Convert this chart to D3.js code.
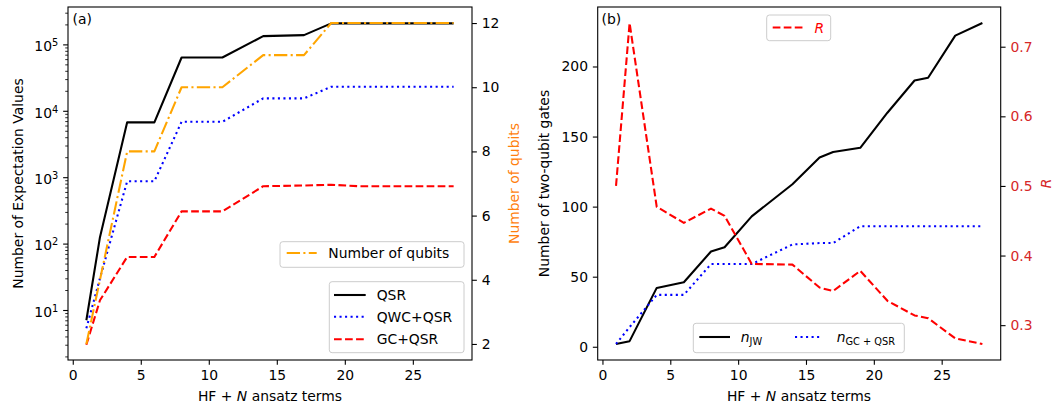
<!DOCTYPE html>
<html>
<head>
<meta charset="utf-8">
<script src="https://cdn.jsdelivr.net/npm/d3@7"></script>
<style>
  body { margin: 0; background: #fff; }
  svg { display: block; }
  svg text { font-family: "DejaVu Sans", sans-serif; font-weight: 400; }
  .tick text { font-size: 13.9px; fill: #000; }
  .tick line { stroke: #000; }
</style>
</head>
<body>
<svg width="1057" height="410"></svg>
<script>
// ---- data, panel (a) ----
const termsA = [1, 2, 4, 6, 8, 11, 14, 17, 19, 21, 28];
const qsr = [7, 125, 6700, 6700, 63500, 63500, 133000, 138000, 207000, 207000, 207000];
const qwcQsr = [5.3, 30, 870, 870, 6820, 6820, 15400, 15400, 23000, 23000, 23000];
const gcQsr = [3, 14, 63, 63, 306, 306, 731, 750, 769, 731, 731];
const qubits = [2, 4, 8, 8, 10, 10, 11, 11, 12, 12, 12];

// ---- data, panel (b) ----
const termsB = [1, 2, 4, 6, 8, 9, 11, 14, 16, 17, 19, 21, 23, 24, 26, 28];
const nJW = [2, 4, 42, 46, 68, 71, 93, 116, 135, 139, 142, 167, 190, 192, 222, 231];
const nGC = [2, 14, 37, 37, 59, 59, 59, 73, 74, 74, 86, 86, 86, 86, 86, 86];
const ratio = [0.5, 0.734, 0.47, 0.447, 0.4675, 0.457, 0.388, 0.387, 0.354, 0.349, 0.378, 0.335, 0.314, 0.31, 0.281, 0.273];

// tick values
const xTicks = [0, 5, 10, 15, 20, 25];
const logTicks = [1e1, 1e2, 1e3, 1e4, 1e5];
const qubitTicks = [2, 4, 6, 8, 10, 12];
const gateTicks = [0, 50, 100, 150, 200];
const ratioTicks = [0.3, 0.4, 0.5, 0.6, 0.7];

const svg = d3.select('svg');
const fs = 13.9;       // 10pt at 100 dpi
const lw = 2.08;       // 1.5pt
const tickLen = 4.86;
const plotTop = 7, plotBottom = 360;

// matplotlib-like dash patterns
const dashes = {
  solid: null,
  dashed: '7.7,3.33',
  dotted: '2.08,3.44',
  dashdot: '13.33,3.33,2.08,3.33'
};

const panelA = { left: 68, right: 472 };
const panelB = { left: 597.7, right: 1000.7 };

const xA = d3.scaleLinear().domain([-0.35, 29.35]).range([panelA.left, panelA.right]);
const xB = d3.scaleLinear().domain([-0.35, 29.35]).range([panelB.left, panelB.right]);
const yLog = d3.scaleLog().domain([Math.pow(10, 0.247), Math.pow(10, 5.563)]).range([plotBottom, plotTop]);
const yQubits = d3.scaleLinear().domain([1.5, 12.5]).range([plotBottom, plotTop]);
const yGates = d3.scaleLinear().domain([-9.45, 242.45]).range([plotBottom, plotTop]);
const yRatio = d3.scaleLinear().domain([0.24995, 0.75705]).range([plotBottom, plotTop]);

// draw a line series
const drawLine = (g, xs, ys, xScale, yScale, color, style) => {
  const line = d3.line().x((d, i) => xScale(xs[i])).y(d => yScale(d));
  g.append('path')
    .datum(ys)
    .attr('d', line)
    .attr('fill', 'none')
    .attr('stroke', color)
    .attr('stroke-width', lw)
    .attr('stroke-dasharray', dashes[style])
    .attr('stroke-linejoin', 'round');
};

// axis helper, strips the domain path
const addAxis = (axis, transform, tickColor) => {
  const g = svg.append('g').attr('transform', transform).call(axis);
  g.select('.domain').remove();
  g.selectAll('.tick line').attr('stroke-width', 1.1);
  if (tickColor) g.selectAll('.tick text').style('fill', tickColor);
  return g;
};

// ---------------- panel (a) ----------------
const gA = svg.append('g');
drawLine(gA, termsA, qsr, xA, yLog, '#000', 'solid');
drawLine(gA, termsA, qwcQsr, xA, yLog, '#0000ff', 'dotted');
drawLine(gA, termsA, gcQsr, xA, yLog, '#ff0000', 'dashed');
drawLine(gA, termsA, qubits, xA, yQubits, '#ffa500', 'dashdot');

addAxis(d3.axisBottom(xA).tickValues(xTicks).tickSize(tickLen).tickPadding(4.86),
  `translate(0,${plotBottom})`);

// log axis, major ticks with 10^k labels
const logAxis = addAxis(d3.axisLeft(yLog).tickValues(logTicks).tickSize(tickLen).tickPadding(4.86).tickFormat(''),
  `translate(${panelA.left},0)`);
logAxis.selectAll('.tick text')
  .attr('dy', '0.45em')
  .each(function (d) {
    const t = d3.select(this);
    t.append('tspan').text('10');
    t.append('tspan').attr('dy', '-0.5em').style('font-size', '9.8px').text(Math.round(Math.log10(d)));
  });

// minor log ticks
const minorTicks = [];
[1, 10, 100, 1000, 10000, 100000].forEach(p => {
  for (let m = 2; m <= 9; m++) {
    const v = m * p;
    if (v > yLog.domain()[0] && v < yLog.domain()[1]) minorTicks.push(v);
  }
});
const minorAxis = addAxis(d3.axisLeft(yLog).tickValues(minorTicks).tickSize(2.78).tickFormat(''),
  `translate(${panelA.left},0)`);
minorAxis.selectAll('.tick line').attr('stroke-width', 0.83);

addAxis(d3.axisRight(yQubits).tickValues(qubitTicks).tickSize(tickLen).tickPadding(4.86),
  `translate(${panelA.right},0)`);

// ---------------- panel (b) ----------------
const gB = svg.append('g');
drawLine(gB, termsB, nJW, xB, yGates, '#000', 'solid');
drawLine(gB, termsB, nGC, xB, yGates, '#0000ff', 'dotted');
drawLine(gB, termsB, ratio, xB, yRatio, '#ff0000', 'dashed');

addAxis(d3.axisBottom(xB).tickValues(xTicks).tickSize(tickLen).tickPadding(4.86),
  `translate(0,${plotBottom})`);
addAxis(d3.axisLeft(yGates).tickValues(gateTicks).tickSize(tickLen).tickPadding(4.86),
  `translate(${panelB.left},0)`);
addAxis(d3.axisRight(yRatio).tickValues(ratioTicks).tickSize(tickLen).tickPadding(4.86).tickFormat(d3.format('.1f')),
  `translate(${panelB.right},0)`, '#d62728');

// spines
[panelA, panelB].forEach(p => {
  svg.append('rect')
    .attr('x', p.left).attr('y', plotTop)
    .attr('width', p.right - p.left).attr('height', plotBottom - plotTop)
    .attr('fill', 'none').attr('stroke', '#000').attr('stroke-width', 1.1);
});

// ---------------- labels ----------------
const label = (x, y, rotate, color) => svg.append('text')
  .attr('transform', `translate(${x},${y}) rotate(${rotate})`)
  .attr('text-anchor', 'middle')
  .style('font-size', fs + 'px')
  .style('fill', color || '#000');

// x labels with italic N
[panelA, panelB].forEach(p => {
  const t = label(Math.round((p.left + p.right) / 2), 401, 0);
  t.append('tspan').text('HF + ');
  t.append('tspan').style('font-style', 'italic').text('N');
  t.append('tspan').text(' ansatz terms');
});

label(22.5, 183.5, -90).text('Number of Expectation Values');
label(518.5, 183.5, -90, '#ff7f0e').text('Number of qubits');
label(549, 183.5, -90).text('Number of two-qubit gates');
label(1051, 183.5, -90, '#d62728').style('font-style', 'italic').text('R');

svg.append('text').attr('x', 72.5).attr('y', 24).style('font-size', fs + 'px').text('(a)');
svg.append('text').attr('x', 601.5).attr('y', 24).style('font-size', fs + 'px').text('(b)');

// ---------------- legends ----------------
const legendBox = (x0, y0, x1, y1) => {
  svg.append('rect')
    .attr('x', x0).attr('y', y0)
    .attr('width', x1 - x0).attr('height', y1 - y0)
    .attr('rx', 2.8)
    .attr('fill', 'rgba(255,255,255,0.8)')
    .attr('stroke', '#cccccc').attr('stroke-width', 1);
};
const legendLine = (x0, x1, y, color, style) => {
  svg.append('line')
    .attr('x1', x0).attr('x2', x1).attr('y1', y).attr('y2', y)
    .attr('stroke', color).attr('stroke-width', lw)
    .attr('stroke-dasharray', dashes[style]);
};
const legendText = (x, y, color) => svg.append('text')
  .attr('x', x).attr('y', y + 5)
  .style('font-size', fs + 'px')
  .style('fill', color || '#000');

// (a) qubits legend
legendBox(280, 241.7, 464, 267.3);
legendLine(286.7, 316.7, 253, '#ffa500', 'dashdot');
legendText(328.3, 253).text('Number of qubits');

// (a) method legend
const methodNames = ['QSR', 'QWC+QSR', 'GC+QSR'];
const methodColors = ['#000', '#0000ff', '#ff0000'];
const methodStyles = ['solid', 'dotted', 'dashed'];
const methodRows = [295, 316.7, 339.3];
legendBox(329.3, 281.7, 464, 352.7);
methodNames.forEach((n, i) => {
  legendLine(334, 365.7, methodRows[i], methodColors[i], methodStyles[i]);
  legendText(376.7, methodRows[i]).text(n);
});

// (b) R legend
legendBox(766.7, 15, 830.7, 40.7);
legendLine(772.7, 803.5, 27.5, '#ff0000', 'dashed');
legendText(814.5, 27.5, '#ff0000').style('font-style', 'italic').text('R');

// (b) gates legend
legendBox(693.3, 323.3, 904.3, 352.7);
legendLine(699.3, 730, 337, '#000', 'solid');
const tJW = legendText(740.7, 337);
tJW.append('tspan').style('font-style', 'italic').text('n');
tJW.append('tspan').attr('dy', 3).style('font-size', '9.8px').text('JW');
legendLine(795, 821.7, 337, '#0000ff', 'dotted');
const tGC = legendText(836.7, 337);
tGC.append('tspan').style('font-style', 'italic').text('n');
tGC.append('tspan').attr('dy', 3).style('font-size', '9.8px').text('GC + QSR');
</script>
</body>
</html>
